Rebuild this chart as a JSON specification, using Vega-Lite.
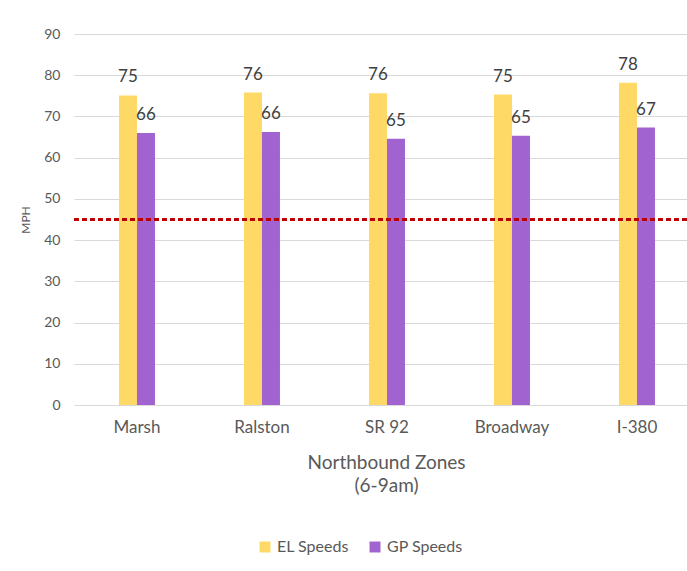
{
  "$schema": "https://vega.github.io/schema/vega-lite/v6.json",
  "autosize": "none",
  "width": 613,
  "height": 371,
  "padding": {"left": 74, "top": 34, "right": 0, "bottom": 166},
  "background": "white",
  "config": {
    "font": "Lato",
    "view": {"stroke": null},
    "axis": {"labelColor": "#595959", "titleColor": "#595959", "labelFont": "Lato", "titleFont": "Lato"}
  },
  "data": {
    "values": [
      {"zone": "Marsh", "series": "EL Speeds", "mph": 75.1},
      {"zone": "Marsh", "series": "GP Speeds", "mph": 66.0},
      {"zone": "Ralston", "series": "EL Speeds", "mph": 75.8},
      {"zone": "Ralston", "series": "GP Speeds", "mph": 66.2},
      {"zone": "SR 92", "series": "EL Speeds", "mph": 75.6},
      {"zone": "SR 92", "series": "GP Speeds", "mph": 64.6},
      {"zone": "Broadway", "series": "EL Speeds", "mph": 75.3},
      {"zone": "Broadway", "series": "GP Speeds", "mph": 65.3},
      {"zone": "I-380", "series": "EL Speeds", "mph": 78.2},
      {"zone": "I-380", "series": "GP Speeds", "mph": 67.3}
    ]
  },
  "encoding": {
    "x": {
      "field": "zone",
      "type": "nominal",
      "sort": ["Marsh", "Ralston", "SR 92", "Broadway", "I-380"],
      "scale": {"paddingInner": 0.712, "paddingOuter": 0.308, "align": 0.584},
      "axis": {
        "labelAngle": 0,
        "labelFontSize": 17,
        "labelPadding": 14,
        "ticks": false,
        "domain": false,
        "title": ["Northbound Zones", "(6-9am)"],
        "titleFontSize": 19,
        "titleFontWeight": "normal",
        "titleLineHeight": 23,
        "titlePadding": 18,
        "titleX": 312
      }
    },
    "xOffset": {"field": "series", "type": "nominal", "scale": {"paddingInner": 0, "paddingOuter": 0}},
    "y": {
      "field": "mph",
      "type": "quantitative",
      "scale": {"domain": [0, 90], "nice": false},
      "axis": {
        "values": [0, 10, 20, 30, 40, 50, 60, 70, 80, 90],
        "labelFontSize": 14,
        "labelPadding": 14,
        "ticks": false,
        "domain": false,
        "gridColor": "#D9D9D9",
        "gridWidth": 1,
        "title": "MPH",
        "titleFontSize": 12,
        "titleFontWeight": "normal",
        "titlePadding": 11
      }
    }
  },
  "layer": [
    {
      "mark": {"type": "bar"},
      "encoding": {
        "color": {
          "field": "series",
          "type": "nominal",
          "scale": {"domain": ["EL Speeds", "GP Speeds"], "range": ["#FFD966", "#A163CF"]},
          "legend": {
            "title": null,
            "orient": "none",
            "direction": "horizontal",
            "legendX": 183,
            "legendY": 505,
            "symbolType": "square",
            "symbolSize": 120,
            "symbolStrokeWidth": 0,
            "labelFontSize": 16,
            "labelColor": "#595959",
            "labelFont": "Lato",
            "columnPadding": 18,
            "symbolOpacity": 1
          }
        }
      }
    },
    {
      "mark": {"type": "text", "baseline": "bottom", "dy": -9, "fontSize": 17, "color": "#404040"},
      "encoding": {
        "text": {"field": "mph", "type": "quantitative", "format": ".0f"}
      }
    },
    {
      "mark": {"type": "rule", "color": "#C00000", "strokeDash": [5, 3], "strokeWidth": 2},
      "encoding": {
        "y": {"datum": 45},
        "x": null,
        "xOffset": null
      }
    }
  ]
}
